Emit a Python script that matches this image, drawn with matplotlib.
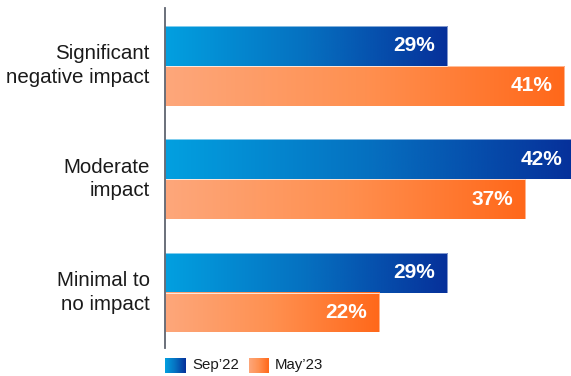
import matplotlib
matplotlib.use("Agg")
import matplotlib.pyplot as plt
import numpy as np
from matplotlib.colors import LinearSegmentedColormap

plt.rcParams['font.family'] = ['Liberation Sans', 'DejaVu Sans']

categories = ["Significant\nnegative impact", "Moderate\nimpact", "Minimal to\nno impact"]
series_names = ["Sep\u201922", "May\u201923"]
sep22 = [29, 42, 29]
may23 = [41, 37, 22]

blue_cmap = LinearSegmentedColormap.from_list("blue_grad", ["#02a0e0", "#0670c0", "#06309a"])
orange_cmap = LinearSegmentedColormap.from_list("orange_grad", ["#fda77b", "#ff9050", "#ff681a"])

W, H = 571, 376
fig = plt.figure(figsize=(W / 100, H / 100), dpi=100)
ax = fig.add_axes([165 / W, 28 / H, (W - 165) / W, 340 / H])

y = np.arange(len(categories))
h = 0.3524
grad = np.linspace(0, 1, 256).reshape(1, -1)

def gradient_bars(values, offset, cmap):
    bars = ax.barh(y + offset, values, height=h, facecolor="none", edgecolor="none")
    for patch in bars:
        x0, y0 = patch.get_x(), patch.get_y()
        w, hh = patch.get_width(), patch.get_height()
        ax.imshow(grad, cmap=cmap, aspect="auto", extent=[x0, x0 + w, y0 + hh, y0],
                  interpolation="bicubic", zorder=2)
        ax.add_patch(plt.Rectangle((x0, y0), w, hh, fill=False, edgecolor="white",
                                   linewidth=0.6, alpha=0.6, zorder=3))
    for yi, v in zip(y + offset, values):
        ax.annotate(f"{v}%", xy=(v, yi), xytext=(-12, 0), textcoords="offset pixels",
                    ha="right", va="center", color="white", fontsize=15,
                    fontweight="bold", annotation_clip=False, zorder=4)

gradient_bars(sep22, -h / 2, blue_cmap)
gradient_bars(may23, h / 2, orange_cmap)

ax.set_xlim(0, 406 / 9.74)
ax.set_ylim(2.489, -0.507)

ax.set_xticks([])
ax.set_yticks(y)
ax.set_yticklabels(categories, fontsize=14.8, color="#1a1a1a", linespacing=1.3,
                   va="center")
ax.tick_params(axis="y", length=0, pad=11)

for s in ["top", "right", "bottom"]:
    ax.spines[s].set_visible(False)
ax.spines["left"].set_color("#5f6470")
ax.spines["left"].set_linewidth(1.3)
ax.spines["left"].set_zorder(5)

# legend swatches with the same gradients
legend_items = [(165, 192, blue_cmap), (249, 275, orange_cmap)]
for (sx, tx, cmap), name in zip(legend_items, series_names):
    lax = fig.add_axes([sx / W, (H - 373) / H, 20 / W, 15 / H])
    lax.imshow(grad, cmap=cmap, aspect="auto", interpolation="bicubic")
    lax.axis("off")
    fig.text(tx / W, (H - 365.5) / H, name, ha="left", va="center",
             fontsize=10.8, color="#1a1a1a")

fig.savefig("out.png", dpi=100)
